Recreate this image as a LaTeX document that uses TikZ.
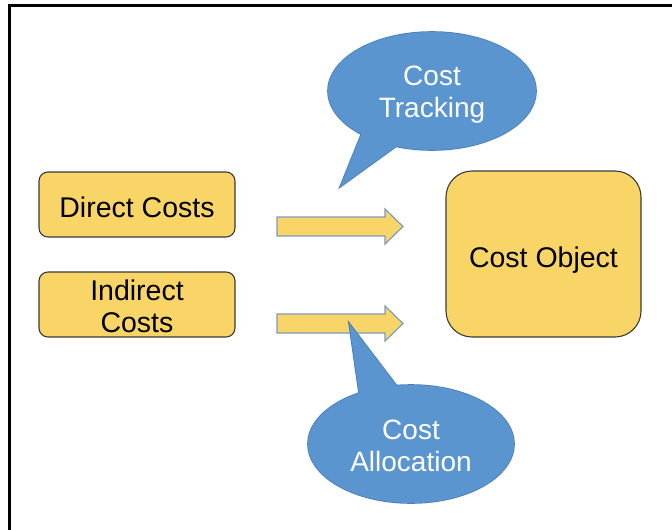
\documentclass[tikz,border=0pt]{standalone}
\usepackage{fontspec}
\setmainfont{Liberation Sans}
\usetikzlibrary{shapes.geometric}
\definecolor{boxyellow}{HTML}{F9D567}
\definecolor{boxline}{HTML}{3A3A3A}
\definecolor{bubble}{HTML}{5A95D0}
\definecolor{bubbleline}{HTML}{477DB6}
\definecolor{arrowline}{HTML}{7C9CBF}
\tikzset{
  costbox/.style={draw=boxline, line width=1.1pt, fill=boxyellow, inner sep=0pt},
  boxlabel/.style={font=\fontsize{28.5}{32}\selectfont, align=center, inner sep=0pt},
  bubblenode/.style={ellipse, inner sep=0pt, align=center, text=white,
    font=\fontsize{28}{32}\selectfont},
  blockarrow/.style={draw=arrowline, line width=1.2pt, fill=boxyellow, line join=miter},
}
\begin{document}
\begin{tikzpicture}[x=1pt, y=-1pt]
\useasboundingbox (0,0) rectangle (672,530);

% outer frame (top and left sides only)
\draw[line width=3pt] (672,5) -- (9.5,5) -- (9.5,530);

% cost boxes
\node[costbox, rounded corners=9pt, minimum width=196pt, minimum height=65pt]
  (direct) at (137,204.5) {};
\node[costbox, rounded corners=9pt, minimum width=196pt, minimum height=65pt]
  (indirect) at (137,304.5) {};
\node[costbox, rounded corners=26pt, minimum width=195pt, minimum height=166pt]
  (object) at (543.5,254) {};
\node[boxlabel, anchor=base] (directlabel) at ([yshift=-12.5pt]direct.center) {Direct Costs};
\node[boxlabel] (indirectlabel) at ([yshift=-2pt]indirect.center) {Indirect\\Costs};
\node[boxlabel, anchor=base] (objectlabel) at ([yshift=-13pt]object.center) {Cost Object};

% block arrows
\coordinate (a1) at (277,207.5);
\coordinate (a2) at (277,304.5);
\foreach \s in {a1,a2}{
  \draw[blockarrow] ([yshift=-9.5pt]\s) -- ++(108,0) -- ++(0,-8) -- ++(18,17.5)
    -- ++(-18,17.5) -- ++(0,-8) -- ++(-108,0) -- cycle;
}

% speech bubbles: ellipse with a pointed tail
\coordinate (tt) at (340,187);
\coordinate (tl) at (363,130);
\coordinate (tr) at (405,140);
\coordinate (at) at (349,323);
\coordinate (al) at (360,400);
\coordinate (ar) at (400,390);

\path[draw=bubbleline, line width=1.6pt, fill=bubble]
  (432,91) ellipse [x radius=104, y radius=59];
\path[draw=bubbleline, line width=1.6pt, fill=bubble, line join=miter]
  (tl) -- (tt) -- (tr) -- cycle;
\path[draw=bubbleline, line width=1.6pt, fill=bubble]
  (411,444) ellipse [x radius=103, y radius=59];
\path[draw=bubbleline, line width=1.6pt, fill=bubble, line join=miter]
  (al) -- (at) -- (ar) -- cycle;
% cover the inner seams
\fill[bubble] (432,91) ellipse [x radius=104, y radius=59];
\fill[bubble] (tl) -- (tt) -- (tr) -- cycle;
\fill[bubble] (411,444) ellipse [x radius=103, y radius=59];
\fill[bubble] (al) -- (at) -- (ar) -- cycle;

\node[bubblenode] (tracking) at (432,95) {Cost\\Tracking};
\node[bubblenode] (allocation) at (411,446) {Cost\\Allocation};
\end{tikzpicture}
\end{document}
